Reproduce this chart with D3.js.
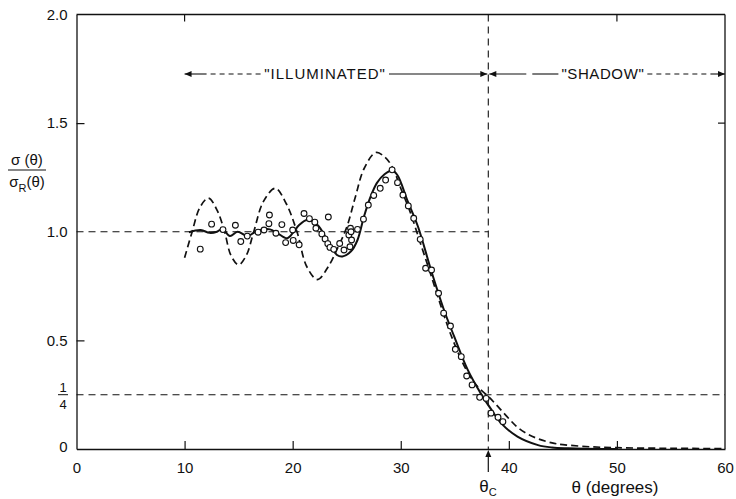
<!DOCTYPE html>
<html>
<head>
<meta charset="utf-8">
<script src="https://cdn.jsdelivr.net/npm/d3@7"></script>
<style>
  html, body { margin: 0; padding: 0; background: #fff; }
  svg { display: block; font-family: "Liberation Sans", Arial, sans-serif; }
  .axis path, .axis line { stroke: #111; }
  .axis text { font-size: 15px; fill: #111; font-family: "Liberation Sans", Arial, sans-serif; }
</style>
</head>
<body>
<svg id="chart" width="736" height="499"></svg>
<script>
// Axis ticks
const xTicks = [0, 10, 20, 30, 40, 50, 60];
const yTicks = [0, 0.5, 1.0, 1.5, 2.0];
const yTickLabels = ["0", "0.5", "1.0", "1.5", "2.0"];

// Critical angle θc (degrees) and the reference level 1/4
const thetaC = 38.1;
const quarterLevel = 0.25;

// Measured ratio σ(θ)/σR(θ): [θ in degrees, ratio]
const measured = [
  [11.45, 0.92], [12.5, 1.035], [13.55, 1.01], [14.7, 1.03], [15.2, 0.955],
  [15.8, 0.98], [16.8, 0.998], [17.35, 1.008], [17.85, 1.077], [17.8, 1.037],
  [18.45, 0.993], [19.0, 1.033], [19.35, 0.95], [20.0, 1.008], [20.05, 0.96],
  [20.6, 0.94], [21.05, 1.084], [21.55, 1.06], [22.05, 1.044], [22.15, 1.016],
  [22.7, 0.99], [23.3, 1.068], [23.0, 0.967], [23.25, 0.945], [23.45, 0.928],
  [23.8, 0.919], [24.35, 0.946], [24.75, 0.916], [25.2, 0.985], [25.35, 1.016],
  [25.4, 1.0], [25.45, 0.962], [25.3, 0.931], [26.0, 1.011], [26.55, 1.058],
  [27.0, 1.123], [27.5, 1.167], [28.1, 1.2], [28.6, 1.238], [29.2, 1.285],
  [29.7, 1.226], [30.2, 1.169], [30.7, 1.119], [31.2, 1.062], [31.8, 0.965],
  [32.3, 0.832], [32.85, 0.824], [33.5, 0.717], [33.97, 0.625], [34.6, 0.566],
  [35.05, 0.459], [35.6, 0.425], [36.1, 0.336], [36.6, 0.295], [37.3, 0.238],
  [37.9, 0.233], [38.35, 0.165], [39.0, 0.146], [39.45, 0.126]
];

// Dashed calculation
const calcDashed = [
  [10.0, 0.88], [10.7, 1.0], [11.4, 1.11], [12.2, 1.155], [13.0, 1.1],
  [13.7, 1.0], [14.3, 0.89], [15.0, 0.848], [15.7, 0.89], [16.4, 1.0],
  [17.3, 1.14], [18.4, 1.2], [19.4, 1.13], [20.4, 1.0], [21.3, 0.84],
  [22.3, 0.78], [23.3, 0.84], [24.2, 0.93], [25.0, 1.02], [25.8, 1.16],
  [26.6, 1.29], [27.7, 1.365], [28.5, 1.345], [29.2, 1.3], [30.0, 1.2],
  [30.9, 1.087], [31.8, 0.95], [32.8, 0.8], [33.8, 0.645], [34.8, 0.505],
  [36.0, 0.37], [37.0, 0.293], [38.1, 0.242], [39.0, 0.195], [40.0, 0.14],
  [40.8, 0.1], [41.7, 0.07], [42.7, 0.047], [44.0, 0.028], [45.0, 0.02],
  [47.6, 0.01], [50.0, 0.006], [55.0, 0.003], [60.0, 0.002]
];

// Solid calculation
const calcSolid = [
  [10.4, 0.998], [11.5, 1.008], [12.3, 0.995], [13.0, 1.0], [13.5, 1.013],
  [14.2, 0.98], [14.9, 1.0], [15.8, 0.98], [16.4, 0.995], [17.0, 1.008],
  [17.9, 1.011], [18.6, 0.993], [19.5, 0.97], [20.1, 1.0], [20.6, 1.031],
  [21.35, 1.054], [22.3, 1.031], [23.2, 0.962], [24.1, 0.893], [24.6, 0.886],
  [25.4, 0.91], [26.0, 0.962], [26.6, 1.07], [27.2, 1.16], [27.8, 1.225],
  [28.5, 1.265], [29.2, 1.282], [29.7, 1.26], [30.6, 1.146], [31.6, 1.023],
  [32.8, 0.824], [34.0, 0.64], [34.95, 0.517], [36.2, 0.364], [37.4, 0.256],
  [38.4, 0.18], [39.3, 0.118], [40.8, 0.057], [42.7, 0.018], [44.0, 0.007],
  [45.5, 0.003], [47.0, 0.001], [50.0, 0.0]
];

const svg = d3.select("#chart");
const ink = "#111";

const x = d3.scaleLinear().domain([0, 60]).range([76.5, 725]);
const y = d3.scaleLinear().domain([0, 2]).range([449, 14.5]);

// Frame: top and right edges
svg.append("line").attr("x1", x(0)).attr("x2", x(60)).attr("y1", y(2)).attr("y2", y(2))
  .attr("stroke", ink).attr("stroke-width", 1.3);
svg.append("line").attr("x1", x(60)).attr("x2", x(60)).attr("y1", y(2)).attr("y2", y(0))
  .attr("stroke", ink).attr("stroke-width", 1.3);

// Inward ticks on the top and right edges
[10, 50].forEach(v => {
  svg.append("line").attr("x1", x(v)).attr("x2", x(v)).attr("y1", y(2)).attr("y2", y(2) + 7)
    .attr("stroke", ink).attr("stroke-width", 1.2);
});
svg.append("line").attr("x1", x(60)).attr("x2", x(60) - 7).attr("y1", y(1.5)).attr("y2", y(1.5))
  .attr("stroke", ink).attr("stroke-width", 1.2);

// Bottom axis
const xAxis = d3.axisBottom(x).tickValues(xTicks).tickSizeInner(-8).tickSizeOuter(0)
  .tickPadding(13).tickFormat(d3.format("d"));
const gx = svg.append("g").attr("class", "axis").attr("transform", `translate(0,${y(0)})`).call(xAxis);
gx.select(".domain").attr("stroke-width", 1.3);
gx.selectAll(".tick line").attr("stroke-width", 1.2)
  .filter(d => d === 0 || d === 60).remove();

// Left axis
const yAxis = d3.axisLeft(y).tickValues(yTicks).tickSizeInner(-8).tickSizeOuter(0)
  .tickPadding(9).tickFormat((d, i) => yTickLabels[i]);
const gy = svg.append("g").attr("class", "axis").attr("transform", `translate(${x(0)},0)`).call(yAxis);
gy.select(".domain").attr("stroke-width", 1.3);
gy.selectAll(".tick line").attr("stroke-width", 1.2)
  .filter(d => d === 0 || d === 2 || d === 1).remove();
gy.selectAll(".tick text").filter(d => d === 0).attr("dy", "0.15em");

// Fraction label for the 1/4 level
const qx = 63;
svg.append("text").attr("x", qx).attr("y", y(quarterLevel) - 3).attr("text-anchor", "middle")
  .attr("font-size", 13).attr("fill", ink).text("1");
svg.append("line").attr("x1", qx - 5).attr("x2", qx + 5).attr("y1", y(quarterLevel)).attr("y2", y(quarterLevel))
  .attr("stroke", ink).attr("stroke-width", 1);
svg.append("text").attr("x", qx).attr("y", y(quarterLevel) + 14).attr("text-anchor", "middle")
  .attr("font-size", 13).attr("fill", ink).text("4");

// Reference levels: ratio 1 up to θc, ratio 1/4 across the plot
svg.append("line").attr("x1", x(0)).attr("x2", x(thetaC)).attr("y1", y(1)).attr("y2", y(1))
  .attr("stroke", ink).attr("stroke-width", 1.1).attr("stroke-dasharray", "7,5");
svg.append("line").attr("x1", x(0)).attr("x2", x(60)).attr("y1", y(quarterLevel)).attr("y2", y(quarterLevel))
  .attr("stroke", ink).attr("stroke-width", 1.1).attr("stroke-dasharray", "7,5");

// θc marker: dashed vertical through the plot, arrow from below the axis
svg.append("line").attr("x1", x(thetaC)).attr("x2", x(thetaC)).attr("y1", y(2)).attr("y2", y(0))
  .attr("stroke", ink).attr("stroke-width", 1.1).attr("stroke-dasharray", "7,5");
svg.append("line").attr("x1", x(thetaC)).attr("x2", x(thetaC)).attr("y1", y(0) + 23).attr("y2", y(0) + 6)
  .attr("stroke", ink).attr("stroke-width", 1.2);
svg.append("path")
  .attr("d", `M${x(thetaC)},${y(0) + 1} l-3,7 l6,0 z`).attr("fill", ink);
const tc = svg.append("text").attr("x", x(thetaC) - 9).attr("y", y(0) + 43)
  .attr("font-size", 17).attr("fill", ink);
tc.append("tspan").text("θ");
tc.append("tspan").attr("font-size", 11).attr("dy", 4).text("C");

// x-axis title
svg.append("text").attr("x", 615).attr("y", y(0) + 44).attr("text-anchor", "middle")
  .attr("font-size", 17).attr("fill", ink).text("θ (degrees)");

// y-axis title as a fraction σ(θ)/σR(θ)
const fx = 27;
svg.append("text").attr("x", fx).attr("y", 165).attr("text-anchor", "middle")
  .attr("font-size", 15).attr("fill", ink).text("σ (θ)");
svg.append("line").attr("x1", 8).attr("x2", 46).attr("y1", 170).attr("y2", 170)
  .attr("stroke", ink).attr("stroke-width", 1.2);
const den = svg.append("text").attr("x", fx).attr("y", 187).attr("text-anchor", "middle")
  .attr("font-size", 15).attr("fill", ink);
den.append("tspan").text("σ");
den.append("tspan").attr("font-size", 11).attr("dy", 5).text("R");
den.append("tspan").attr("dy", -5).text("(θ)");

// Region annotations with arrows
const ay = 74;
function arrowHead(px, dir) {
  svg.append("path").attr("d", `M${px},${ay} l${-dir * 7},-3 l0,6 z`).attr("fill", ink);
}
function seg(x1, x2, dash) {
  const l = svg.append("line").attr("x1", x1).attr("x2", x2).attr("y1", ay).attr("y2", ay)
    .attr("stroke", ink).attr("stroke-width", 1.1);
  if (dash) l.attr("stroke-dasharray", dash);
}
const illumText = svg.append("text").attr("x", x(23.0)).attr("y", ay + 5).attr("text-anchor", "middle")
  .attr("font-size", 15).attr("letter-spacing", "1px").attr("fill", ink).text("\"ILLUMINATED\"");
const shadowText = svg.append("text").attr("x", x(48.7)).attr("y", ay + 5).attr("text-anchor", "middle")
  .attr("font-size", 15).attr("letter-spacing", "0.6px").attr("fill", ink).text("\"SHADOW\"");
const ib = illumText.node().getBBox();
const sb = shadowText.node().getBBox();

arrowHead(x(10), -1);
seg(x(10), x(10) + 22);
seg(x(10) + 26, ib.x - 3, "5,4");
seg(ib.x + ib.width + 3, x(thetaC) - 1);
arrowHead(x(thetaC) - 1, 1);
arrowHead(x(thetaC) + 1, -1);
seg(x(thetaC) + 1, x(thetaC) + 38);
seg(x(thetaC) + 44, sb.x - 3);
seg(sb.x + sb.width + 3, x(60) - 14, "5,4");
seg(x(60) - 14, x(60));
arrowHead(x(60), 1);

// Curves
const line = d3.line().x(d => x(d[0])).y(d => y(d[1])).curve(d3.curveCatmullRom.alpha(0.5));

svg.append("path").datum(calcDashed).attr("d", line)
  .attr("fill", "none").attr("stroke", ink).attr("stroke-width", 1.7).attr("stroke-dasharray", "7,4");
svg.append("path").datum(calcSolid).attr("d", line)
  .attr("fill", "none").attr("stroke", ink).attr("stroke-width", 2);

// Measured points
svg.append("g").selectAll("circle").data(measured).join("circle")
  .attr("cx", d => x(d[0])).attr("cy", d => y(d[1])).attr("r", 2.9)
  .attr("fill", "#fff").attr("stroke", ink).attr("stroke-width", 1.1);
</script>
</body>
</html>
